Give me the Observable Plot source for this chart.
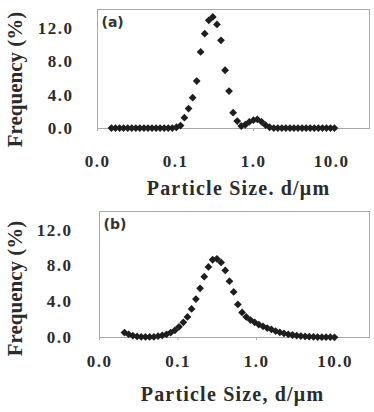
<!DOCTYPE html>
<html>
<head>
<meta charset="utf-8">
<script src="https://cdn.jsdelivr.net/npm/d3@7"></script>
<script src="https://cdn.jsdelivr.net/npm/@observablehq/plot@0.6"></script>
<style>
  body { margin: 0; background: #fff; }
  #chart { width: 374px; }
  #chart svg { display: block; }
  #chart text { font-weight: bold; }
</style>
</head>
<body>
<div id="chart"></div>
<script>
// Particle size bins (µm) and volume frequency (%) for sample (a)
const sizesA = [
  0.0151, 0.0170, 0.0192, 0.0216, 0.0244, 0.0275, 0.0310, 0.0349, 0.0394, 0.0444,
  0.0500, 0.0564, 0.0635, 0.0716, 0.0807, 0.0910, 0.103, 0.116, 0.130, 0.147,
  0.166, 0.187, 0.210, 0.237, 0.267, 0.301, 0.340, 0.383, 0.432, 0.486,
  0.548, 0.618, 0.697, 0.785, 0.885, 0.998, 1.12, 1.27, 1.43, 1.61,
  1.82, 2.05, 2.31, 2.60, 2.93, 3.30, 3.72, 4.20, 4.73, 5.33,
  6.01, 6.78, 7.64, 8.61, 9.70, 10.9
];
const freqA = [
  0.05, 0.05, 0.05, 0.05, 0.05, 0.05, 0.05, 0.05, 0.05, 0.05,
  0.05, 0.05, 0.05, 0.05, 0.05, 0.05, 0.15, 0.35, 1.3, 2.4,
  3.7, 5.7, 9.2, 11.4, 13.0, 13.4, 12.5, 10.6, 7.0, 4.5,
  1.9, 0.9, 0.3, 0.45, 0.8, 1.0, 1.1, 0.8, 0.4, 0.15,
  0.05, 0.05, 0.05, 0.05, 0.05, 0.05, 0.05, 0.05, 0.05, 0.05,
  0.05, 0.05, 0.05, 0.05, 0.05, 0.05
];

// Particle size bins (µm) and volume frequency (%) for sample (b)
const sizesB = [
  0.0208, 0.0235, 0.0266, 0.0301, 0.0340, 0.0385, 0.0436, 0.0493, 0.0557, 0.0630,
  0.0713, 0.0806, 0.0912, 0.103, 0.117, 0.132, 0.149, 0.169, 0.191, 0.216,
  0.244, 0.276, 0.313, 0.354, 0.400, 0.452, 0.512, 0.579, 0.655, 0.740,
  0.838, 0.947, 1.07, 1.21, 1.37, 1.55, 1.75, 1.98, 2.24, 2.54,
  2.87, 3.25, 3.67, 4.16, 4.70, 5.32, 6.01, 6.80, 7.69, 8.70,
  9.84
];
const freqB = [
  0.55, 0.35, 0.2, 0.12, 0.08, 0.06, 0.06, 0.08, 0.15, 0.25,
  0.36, 0.55, 0.8, 1.2, 1.7, 2.3, 3.2, 4.3, 5.5, 6.8,
  7.9, 8.7, 8.8, 8.4, 7.5, 6.3, 5.1, 3.7, 2.8, 2.3,
  1.95, 1.7, 1.45, 1.25, 1.05, 0.9, 0.72, 0.58, 0.46, 0.36,
  0.28, 0.21, 0.16, 0.12, 0.09, 0.07, 0.05, 0.04, 0.03, 0.03,
  0.02
];

const xTicks = [0.01, 0.1, 1, 10];
const yTicks = [0, 4, 8, 12];
const yTitle = "Frequency (%)";
const xTitleA = "Particle Size. d/μm";
const xTitleB = "Particle Size, d/μm";
const tagA = "(a)";
const tagB = "(b)";

const ink = "#2b2b2b";
const grid = "#a8a8a8";
const serif = "'Liberation Serif', 'Times New Roman', serif";

function panel(o) {
  const data = o.sizes.map((s, i) => ({size: s, freq: o.freq[i]}));
  const svg = Plot.plot({
    width: 374,
    height: o.height,
    marginLeft: o.ml, marginRight: o.mr, marginTop: o.mt, marginBottom: o.mb,
    style: {fontFamily: serif, background: "#fff", overflow: "visible"},
    x: {type: "log", domain: o.xDomain},
    y: {domain: o.yDomain},
    marks: [
      Plot.frame({stroke: grid}),
      Plot.axisX(xTicks, {
        tickFormat: d => d.toFixed(1), tickSize: 3, tickPadding: o.xPad,
        stroke: grid, fill: ink, fontSize: 17, fontWeight: "bold", label: null
      }),
      Plot.axisY(yTicks, {
        tickFormat: d => d.toFixed(1), tickSize: 0, tickPadding: o.yPad,
        fill: ink, fontSize: 17, fontWeight: "bold", label: null
      }),
      Plot.dot(data, {x: "size", y: "freq", symbol: "diamond2", r: 3.5, fill: "#1e1e1e"}),
      Plot.text([o.tag], {
        frameAnchor: "top-left", dx: 4, dy: 13, textAnchor: "start", lineAnchor: "middle",
        fontFamily: "'DejaVu Sans', sans-serif", fontSize: 14, fontWeight: "bold", fill: "#333"
      }),
      Plot.text([yTitle], {
        frameAnchor: "left", rotate: -90, dx: o.yTitleDx, dy: o.yTitleDy,
        textAnchor: "middle", lineAnchor: "middle",
        fontSize: 21, fontWeight: "bold", fill: ink
      }),
      Plot.text([o.xTitle], {
        frameAnchor: "bottom", dx: o.xTitleDx, dy: o.xTitleDy,
        textAnchor: "middle", lineAnchor: "middle",
        fontSize: 20, fontWeight: "bold", fill: ink
      })
    ]
  });
  const s = d3.select(svg);
  s.selectAll('g[aria-label="x-axis tick label"] text, g[aria-label="y-axis tick label"] text')
    .style("letter-spacing", "1.5px");
  s.selectAll("text").filter(function () { return this.textContent === o.xTitle; })
    .style("letter-spacing", "1.2px");
  return svg;
}

const chart = document.getElementById("chart");
chart.append(panel({
  sizes: sizesA, freq: freqA, tag: tagA, xTitle: xTitleA,
  height: 205, ml: 97, mr: 5, mt: 9, mb: 77,
  xDomain: [0.01, 30.7], yDomain: [0, 14.3],
  xPad: 23, yPad: 24,
  yTitleDx: -82, yTitleDy: 10.5, xTitleDx: 5, xTitleDy: 60
}));
chart.append(panel({
  sizes: sizesB, freq: freqB, tag: tagB, xTitle: xTitleB,
  height: 207, ml: 99, mr: 5, mt: 6, mb: 75,
  xDomain: [0.01, 27.5], yDomain: [0, 14.1],
  xPad: 14, yPad: 27,
  yTitleDx: -84, yTitleDy: 14, xTitleDx: -2, xTitleDy: 57
}));
</script>
</body>
</html>
